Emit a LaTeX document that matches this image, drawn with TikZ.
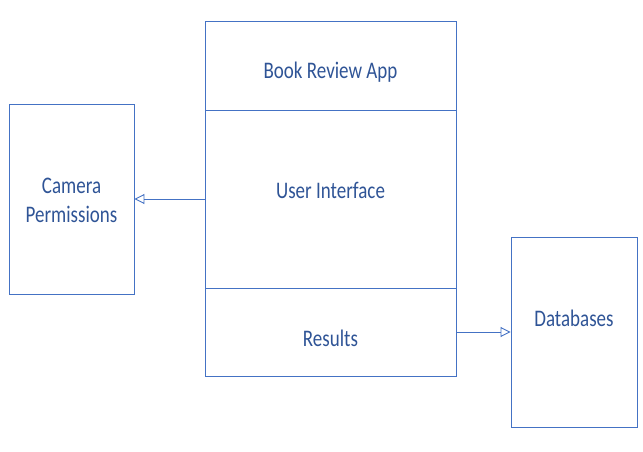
\documentclass[tikz,border=0pt]{standalone}
\usepackage{fontspec}
\setmainfont{Carlito}
\usetikzlibrary{arrows.meta}
\definecolor{lineblue}{HTML}{4472C4}
\definecolor{textblue}{HTML}{2F5496}
\begin{document}
\begin{tikzpicture}[x=1pt,y=-1pt,
  boxstyle/.style={draw=lineblue, line width=0.9pt},
  lbl/.style={text=textblue, font=\fontsize{19}{23.5}\selectfont, align=center, yscale=1.25, transform shape, inner sep=0pt},
  conn/.style={draw=lineblue, line width=0.9pt, -{Triangle[open, length=10pt, width=10pt]}}]
\useasboundingbox (0,0) rectangle (643,452);
\draw[boxstyle] (205,21) rectangle (456,376);
\draw[boxstyle] (205,110) -- (456,110);
\draw[boxstyle] (205,288) -- (456,288);
\node[lbl] (app) at (330.5,72) {Book Review App};
\node[lbl] (ui) at (330.5,190) {User Interface};
\node[lbl] (res) at (330.5,338) {Results};
\node[boxstyle, minimum width=125pt, minimum height=190pt, inner sep=0pt] (cam) at (71.5,199) {};
\node[lbl] at (71.5,200.5) {Camera\\Permissions};
\node[boxstyle, minimum width=126pt, minimum height=190pt, inner sep=0pt] (db) at (574,332) {};
\node[lbl] at (574,318) {Databases};
\coordinate (uiL) at (205,199);
\coordinate (resR) at (456,332);
\draw[conn] (uiL) -- (cam.east |- uiL);
\draw[conn] (resR) -- (db.west |- resR);
\end{tikzpicture}
\end{document}
